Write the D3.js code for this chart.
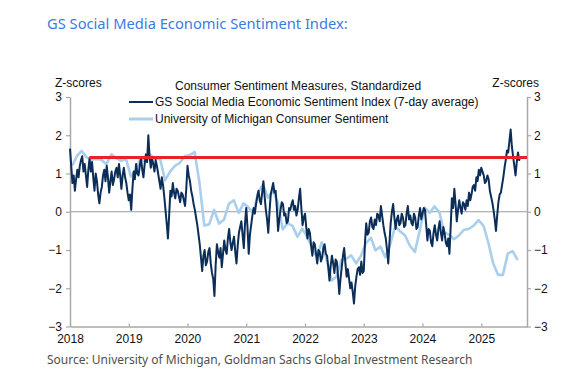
<!DOCTYPE html>
<html>
<head>
<meta charset="utf-8">
<script src="https://cdn.jsdelivr.net/npm/d3@7"></script>
<style>
  body { margin: 0; background: #fff; }
  text { font-family: "Liberation Sans", Arial, sans-serif; }
</style>
</head>
<body>
<svg id="chart" width="581" height="376"></svg>
<script>
// UMich consumer sentiment, standardized, monthly from Jan 2018
const umichStart = new Date(2018, 0, 15);
const umichValues = [
  1.21, 1.47, 1.59, 1.42, 1.36, 1.38, 1.36, 1.24, 1.50, 1.40, 1.33, 1.38,
  0.92, 1.09, 1.39, 1.31, 1.49, 1.38, 1.39, 0.82, 1.05, 1.20, 1.28, 1.45,
  1.48, 1.56, 0.78, -0.36, -0.33, 0.05, -0.31, -0.21, 0.21, 0.30, -0.03, 0.22,
  0.11, -0.03, 0.50, 0.72, 0.37, 0.54, 0.26, -0.46, -0.30, -0.37, -0.65, -0.44,
  -0.66, -0.95, -1.18, -0.80, -1.24, -1.80, -1.70, -1.26, -1.23, -1.14, -1.35, -1.15,
  -0.82, -0.68, -1.01, -0.91, -1.19, -0.85, -0.38, -0.51, -0.62, -0.89, -1.05, -0.50,
  0.11, -0.03, 0.14, -0.01, -0.54, -0.60, -0.72, -0.62, -0.47, -0.45, -0.36, -0.22,
  -0.37, -0.83, -1.34, -1.65, -1.65, -1.09, -1.03, -1.26
];

// GS social media index (7-day avg), read roughly weekly (48 per year) from Jan 2018
const gsStart = new Date(2018, 0, 1);
const gsValues = [
  // 2018
  1.65, 1.20, 0.75, 0.95, 0.55, 0.85, 1.10, 0.90, 1.20, 1.35, 1.45, 1.05,
  1.25, 0.95, 0.65, 1.10, 1.40, 1.05, 1.30, 0.90, 0.55, 1.00, 0.80, 0.45,
  0.22, 0.50, 0.65, 0.95, 1.10, 0.80, 1.20, 0.90, 0.50, 0.80, 1.05, 0.70,
  0.85, 1.05, 1.15, 0.90, 1.25, 0.95, 0.60, 0.95, 1.15, 0.90, 0.75, 0.50,
  // 2019
  0.30, 0.45, 0.05, 0.60, 1.05, 0.85, 1.25, 1.00, 0.95, 1.20, 1.40, 1.10,
  0.90, 1.25, 1.50, 1.30, 2.00, 1.45, 1.15, 1.40, 1.25, 1.05, 1.35, 1.20,
  1.00, 0.80, 0.60, 0.90, 0.70, 0.40, 0.05, -0.30, -0.70, -0.10, 0.55, 0.40,
  0.75, 0.50, 0.35, 0.60, 0.55, 0.40, 0.25, 0.50, 0.45, 0.30, 0.15, 0.60,
  // 2020
  1.20, 0.95, 0.80, 0.55, 0.40, 0.20, 0.05, -0.15, -0.35, -0.60, -0.85, -1.20,
  -1.55, -1.15, -1.00, -1.40, -1.30, -1.05, -0.95, -1.35, -1.60, -1.75, -2.20, -1.40,
  -0.85, -1.05, -1.20, -0.95, -1.45, -1.10, -0.75, -1.00, -1.10, -0.70, -0.45, -0.80,
  -1.00, -0.80, -0.65, -1.05, -1.35, -0.90, -0.55, -0.40, -0.25, -0.60, -0.95, -0.30,
  // 2021
  0.10, -0.40, -1.10, -0.60, -0.35, -0.10, 0.10, -0.05, 0.20, 0.40, 0.55, 0.30,
  0.20, 0.50, 0.80, 0.40, 0.05, -0.20, -0.55, 0.00, 0.45, 0.60, 0.75, 0.50,
  0.55, 0.10, -0.50, -0.20, 0.05, 0.25, 0.20, -0.10, -0.05, -0.30, -0.25, 0.10,
  0.05, 0.20, 0.30, 0.05, 0.15, -0.10, 0.05, 0.35, 0.60, 0.10, -0.35, -0.15,
  // 2022
  -0.05, -0.40, -0.70, -0.45, -0.55, -0.90, -1.15, -0.80, -0.85, -1.10, -1.35, -1.00,
  -1.05, -1.30, -1.20, -0.95, -0.85, -1.10, -1.15, -1.45, -1.80, -1.40, -1.15, -1.35,
  -1.60, -1.25, -1.30, -1.70, -2.15, -1.75, -1.45, -1.15, -0.95, -1.35, -1.70, -1.50,
  -1.75, -2.00, -1.85, -2.10, -2.40, -1.95, -1.70, -1.50, -1.45, -1.65, -1.30, -1.60,
  // 2023
  -1.55, -0.80, -0.30, -0.60, -0.55, -0.25, -0.15, -0.40, -0.45, -0.20, -0.35, -0.05,
  -0.10, -0.25, 0.15, -0.10, -0.35, -0.55, -0.70, -1.00, -1.35, -0.80, -0.30, 0.00,
  0.20, -0.15, -0.45, -0.20, -0.10, -0.35, -0.30, -0.05, -0.15, -0.40, -0.35, -0.05,
  0.15, -0.20, -0.10, -0.30, -0.35, -0.05, -0.15, -0.45, -0.40, -0.10, 0.10, -0.20,
  // 2024
  -0.05, 0.10, 0.05, -0.35, -0.75, -0.45, -0.50, -0.80, -0.90, -0.55, -0.35, -0.60,
  -0.75, -0.45, -0.25, -0.55, -0.75, -0.40, -0.55, -0.80, -0.90, -0.70, -1.10, -0.40,
  0.35, 0.10, 0.60, 0.20, -0.25, 0.05, 0.30, 0.10, -0.05, 0.25, 0.20, 0.05,
  0.30, 0.15, 0.50, 0.30, 0.45, 0.65, 0.70, 0.55, 0.90, 0.80, 1.10, 0.95,
  // 2025
  1.15, 1.05, 0.95, 0.75, 0.80, 0.95, 0.85, 0.55, 0.40, 0.25, 0.05, -0.20,
  -0.50, -0.10, 0.25, 0.45, 0.50, 0.70, 0.90, 1.15, 1.35, 1.60, 1.55, 1.85,
  2.15, 1.70, 1.45, 1.20, 0.95, 1.30, 1.55, 1.35, 1.45
];

const redLevel = 1.42;
const redStart = new Date(2018, 4, 1);
const yTicks = [-3, -2, -1, 0, 1, 2, 3];
const xYears = [2018, 2019, 2020, 2021, 2022, 2023, 2024, 2025];

const umich = umichValues.map((v, i) => ({date: d3.utcMonth.offset(umichStart, i), value: v}));
const gsStep = (365.25 / 48) * 864e5;
const gs = gsValues.map((v, i) => ({date: new Date(gsStart.getTime() + i * gsStep), value: v}));

const plot = {left: 70, right: 527, top: 97, bottom: 326.5};
const xEnd = new Date(2025, 9, 12);

const svg = d3.select("#chart");

const x = d3.scaleTime().domain([new Date(2018, 0, 1), xEnd]).range([plot.left, plot.right]);
const y = d3.scaleLinear().domain([-3, 3]).range([plot.bottom, plot.top]);

svg.append("text")
  .attr("x", 47).attr("y", 29)
  .attr("fill", "#3d7be0")
  .style("font-family", "'Noto Sans', sans-serif")
  .style("font-size", "14.7px")
  .text("GS Social Media Economic Sentiment Index:");

// zero line
svg.append("line")
  .attr("x1", plot.left).attr("x2", plot.right)
  .attr("y1", y(0)).attr("y2", y(0))
  .attr("stroke", "#9a9a9a").attr("stroke-width", 1);

const axisStyle = g => {
  g.select(".domain").attr("stroke", "#a8a8a8").attr("stroke-width", 1.5);
  g.selectAll(".tick line").attr("stroke", "#a8a8a8").attr("stroke-width", 1.2);
  g.selectAll(".tick text").attr("fill", "#111").style("font-size", "12px")
    .style("font-family", "'Liberation Sans', Arial, sans-serif");
};

svg.append("g")
  .attr("transform", `translate(${plot.left},0)`)
  .call(d3.axisLeft(y).tickValues(yTicks).tickFormat(d3.format("d"))
    .tickSize(4).tickPadding(4).tickSizeOuter(0))
  .call(axisStyle);

svg.append("g")
  .attr("transform", `translate(${plot.right},0)`)
  .call(d3.axisRight(y).tickValues(yTicks).tickFormat(d3.format("d"))
    .tickSize(4).tickPadding(3).tickSizeOuter(0))
  .call(axisStyle);

const xAxis = svg.append("g")
  .attr("transform", `translate(0,${plot.bottom})`)
  .call(d3.axisBottom(x).tickValues(xYears.map(yr => new Date(yr, 0, 1)))
    .tickFormat(d3.timeFormat("%Y")).tickSize(-3).tickPadding(6).tickSizeOuter(0))
  .call(axisStyle);
xAxis.selectAll(".tick text").attr("dy", "0.9em");

const line = d3.line().x(d => x(d.date)).y(d => y(d.value));

svg.append("path")
  .datum(umich)
  .attr("fill", "none")
  .attr("stroke", "#a9cfec")
  .attr("stroke-width", 2.6)
  .attr("stroke-linejoin", "round")
  .attr("d", line);

svg.append("path")
  .datum(gs)
  .attr("fill", "none")
  .attr("stroke", "#0b2e58")
  .attr("stroke-width", 2)
  .attr("stroke-linejoin", "round")
  .attr("d", line);

svg.append("line")
  .attr("x1", x(redStart)).attr("x2", plot.right)
  .attr("y1", y(redLevel)).attr("y2", y(redLevel))
  .attr("stroke", "#e8212b").attr("stroke-width", 3);

// labels and legend
const lab = (tx, ty, s, anchor) => svg.append("text")
  .attr("x", tx).attr("y", ty).attr("text-anchor", anchor || "start")
  .attr("fill", "#111").style("font-size", "12px").text(s);

lab(55, 87, "Z-scores");
lab(539, 87, "Z-scores", "end");
lab(175, 90, "Consumer Sentiment Measures, Standardized");

const legend = [
  {name: "GS Social Media Economic Sentiment Index (7-day average)", color: "#0b2e58", w: 2},
  {name: "University of Michigan Consumer Sentiment", color: "#a9cfec", w: 3}
];
legend.forEach((d, i) => {
  const ly = 102 + i * 17;
  svg.append("line")
    .attr("x1", 129).attr("x2", 153).attr("y1", ly).attr("y2", ly)
    .attr("stroke", d.color).attr("stroke-width", d.w);
  lab(155, ly + 4, d.name);
});

svg.append("text")
  .attr("x", 47).attr("y", 364)
  .attr("fill", "#505050")
  .style("font-family", "'Noto Sans', sans-serif")
  .style("font-size", "12px")
  .text("Source: University of Michigan, Goldman Sachs Global Investment Research");
</script>
</body>
</html>
